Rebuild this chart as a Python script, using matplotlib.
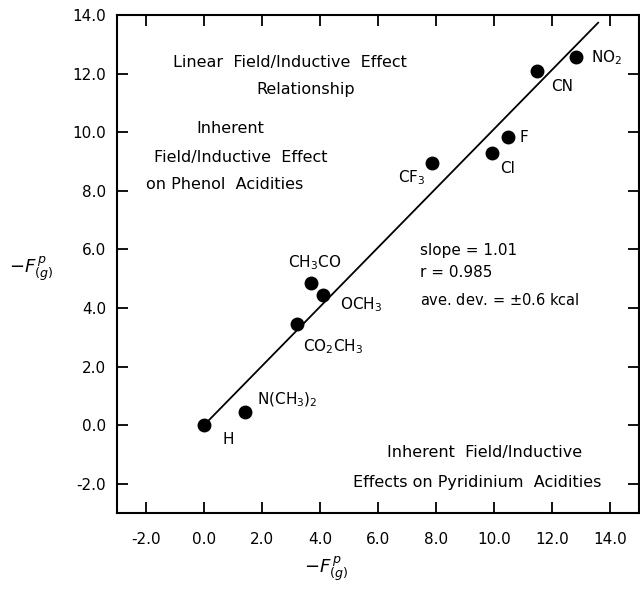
import numpy as np
import matplotlib
matplotlib.use("Agg")
import matplotlib.pyplot as plt

# substituent data: -F(g)p (pyridinium) vs -F(g)p (phenol)
names = ['H', r'N(CH$_3$)$_2$', r'CO$_2$CH$_3$', r'CH$_3$CO', r'OCH$_3$',
         r'CF$_3$', 'Cl', 'F', 'CN', r'NO$_2$']
x_vals = [0.0, 1.4, 3.2, 3.7, 4.1, 7.85, 9.95, 10.5, 11.5, 12.85]
y_vals = [0.0, 0.45, 3.45, 4.85, 4.45, 8.95, 9.3, 9.85, 12.1, 12.55]

# label anchor points (left edge, vertical centre)
label_x = [0.62, 1.82, 3.4, 2.9, 4.68, 6.7, 10.2, 10.87, 11.97, 13.35]
label_y = [-0.5, 0.85, 2.67, 5.55, 4.1, 8.45, 8.77, 9.83, 11.57, 12.53]

# fitted line
fit_slope = 1.01
fit_intercept = 0.0
fit_x = np.array([0.1, 13.6])

ticks = [-2.0, 0.0, 2.0, 4.0, 6.0, 8.0, 10.0, 12.0, 14.0]

plt.rcParams['font.family'] = ['DejaVu Sans']
plt.rcParams['mathtext.fontset'] = 'dejavusans'

fig = plt.figure(figsize=(6.4, 5.92), dpi=100)
ax = fig.add_axes([0.183, 0.1334, 0.815, 0.8413])

ax.plot(fit_x, fit_slope * fit_x + fit_intercept, color='black', lw=1.3)
ax.plot(x_vals, y_vals, 'o', color='black', ms=9)

for name, lx, ly in zip(names, label_x, label_y):
    ax.text(lx, ly, name, fontsize=11, ha='left', va='center')

ax.text(2.96, 12.39, 'Linear  Field/Inductive  Effect', fontsize=11.5, ha='center', va='center')
ax.text(3.5, 11.47, 'Relationship', fontsize=11.5, ha='center', va='center')
ax.text(0.9, 10.13, 'Inherent', fontsize=11.5, ha='center', va='center')
ax.text(1.25, 9.15, 'Field/Inductive  Effect', fontsize=11.5, ha='center', va='center')
ax.text(0.72, 8.2, 'on Phenol  Acidities', fontsize=11.5, ha='center', va='center')

ax.text(7.46, 5.97, 'slope = 1.01', fontsize=11, ha='left', va='center')
ax.text(7.46, 5.22, 'r = 0.985', fontsize=11, ha='left', va='center')
ax.text(7.46, 4.27, r'ave. dev. = $\pm$0.6 kcal', fontsize=10.5, ha='left', va='center')

ax.text(9.67, -0.92, 'Inherent  Field/Inductive', fontsize=11.5, ha='center', va='center')
ax.text(9.44, -1.95, 'Effects on Pyridinium  Acidities', fontsize=11.5, ha='center', va='center')

ax.set_xlim(-3.0, 15.0)
ax.set_ylim(-3.0, 14.0)
ax.set_xticks(ticks)
ax.set_yticks(ticks)
ax.set_xticklabels([f'{t:.1f}' for t in ticks])
ax.set_yticklabels([f'{t:.1f}' for t in ticks])
ax.tick_params(direction='in', length=8, width=1.3, labelsize=11,
               top=True, right=True)
ax.tick_params(axis='x', pad=14)
ax.tick_params(axis='y', pad=8)
for sp in ax.spines.values():
    sp.set_linewidth(1.5)

ax.set_xlabel(r'$-F^{\,p}_{(g)}$', fontsize=13)
ax.xaxis.set_label_coords(0.4, -0.085)
ax.set_ylabel(r'$-F^{\,p}_{(g)}$', fontsize=13, rotation=0)
ax.yaxis.set_label_coords(-0.165, 0.46)

fig.savefig('out.png', dpi=100)
